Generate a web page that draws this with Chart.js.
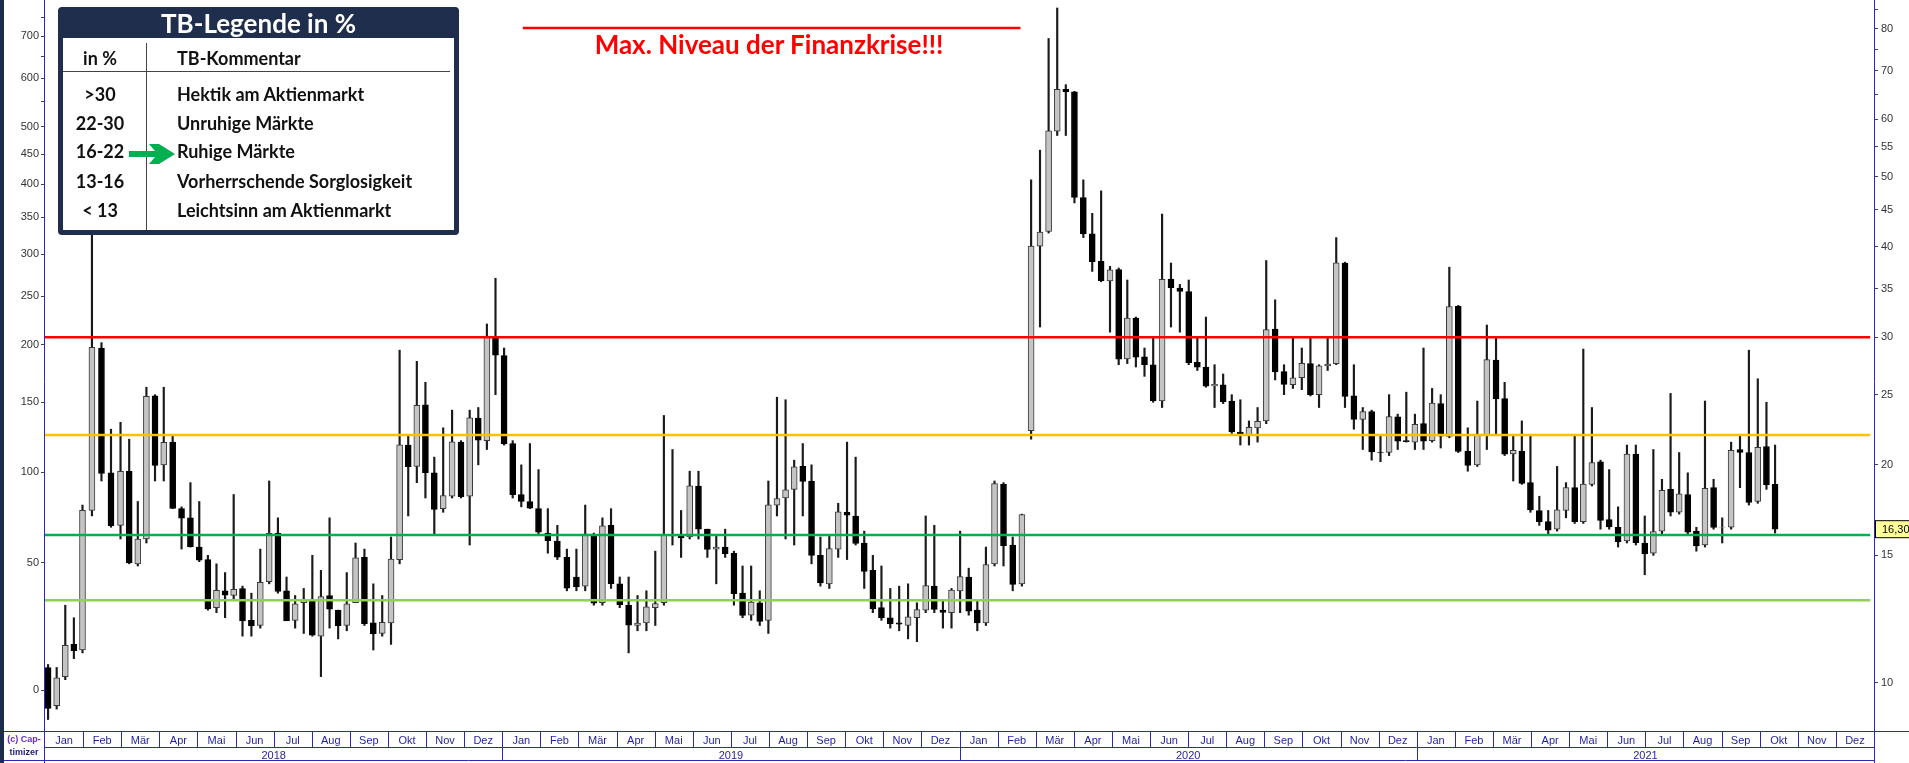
<!DOCTYPE html>
<html>
<head>
<meta charset="utf-8">
<title>VIX 2018-2021</title>
<script src="https://cdn.jsdelivr.net/npm/chart.js@4.4.1/dist/chart.umd.min.js"></script>
<style>
  html, body { margin: 0; padding: 0; background: #fff; overflow: hidden; }
  #wrap { position: relative; width: 1909px; height: 763px; }
  #edge { position: absolute; left: 0; top: 0; width: 4px; height: 763px; background: #1d2c4a; }
  #legend { position: absolute; left: 58px; top: 7px; width: 401px; height: 228px; background: #1f2e4c;
    border-radius: 4px; font-family: Lato, 'Open Sans', sans-serif; }
  #legend .title { position: absolute; left: 0; top: 1px; width: 100%; text-align: center; color: #fff;
    font-weight: bold; font-size: 26px; line-height: 30px; }
  #legend .inner { position: absolute; left: 5px; top: 31px; width: 391px; height: 192px; background: #fff; }
  #legend .vline { position: absolute; left: 83px; top: 5px; width: 1px; height: 187px; background: #444; }
  #legend .hline { position: absolute; left: 0; top: 33px; width: 387px; height: 1px; background: #444; }
  #legend .cell { position: absolute; font-size: 18px; line-height: 20px; font-weight: bold; color: #111; white-space: nowrap; }
  #legend .c1 { left: 0; width: 74px; text-align: center; }
  #legend .c2 { left: 114px; }
  #arrow { position: absolute; left: 66px; top: 104px; }
  #crisis { position: absolute; left: 519px; top: 29px; width: 500px; text-align: center; color: #f00;
    font-family: Lato, 'Open Sans', sans-serif; font-weight: bold; font-size: 26px; line-height: 30px; }
  #copy { position: absolute; left: 4px; top: 733px; width: 40px; font-family: 'Liberation Sans', Arial, sans-serif;
    font-size: 9px; line-height: 13px; font-weight: bold; text-align: center; }
</style>
</head>
<body>
<div id="wrap">
  <canvas id="vixChart" width="1909" height="763"></canvas>
  <div id="edge"></div>
  <div id="legend">
    <div class="title">TB-Legende in %</div>
    <div class="inner">
      <div class="vline"></div>
      <div class="hline"></div>
      <div class="cell c1" style="top:10px">in %</div>
      <div class="cell c2" style="top:10px">TB-Kommentar</div>
      <div class="cell c1" style="top:46px">&gt;30</div>
      <div class="cell c2" style="top:46px">Hektik am Aktienmarkt</div>
      <div class="cell c1" style="top:75px">22-30</div>
      <div class="cell c2" style="top:75px">Unruhige Märkte</div>
      <div class="cell c1" style="top:103px">16-22</div>
      <div class="cell c2" style="top:103px">Ruhige Märkte</div>
      <div class="cell c1" style="top:133px">13-16</div>
      <div class="cell c2" style="top:133px">Vorherrschende Sorglosigkeit</div>
      <div class="cell c1" style="top:162px">&lt; 13</div>
      <div class="cell c2" style="top:162px">Leichtsinn am Aktienmarkt</div>
      <svg id="arrow" width="48" height="24" viewBox="0 0 48 24">
        <polygon points="0,9 26,9 20,2 30,2 46,12 30,22 20,22 26,15 0,15" fill="#00b050"/>
      </svg>
    </div>
  </div>
  <div id="crisis">Max. Niveau der Finanzkrise!!!</div>
  <div id="copy"><span style="color:#6a2cc0">(c) Cap-</span><br><span style="color:#1c1c7a">timizer</span></div>
</div>
<script>
// weekly VIX candles, first week starts Mon 2018-01-01
const firstMonday = Date.UTC(2018, 0, 1);

const opens = [
  // 2018
  10.5, 9.3, 10.2, 11.3, 11.1, 17.3, 29.0, 19.5, 16.5, 19.6, 14.6, 15.8, 24.9, 20.0, 21.5, 17.4, 16.9, 15.4, 14.8, 12.7,
  13.4, 13.2, 13.5, 12.2, 12.0, 13.8, 16.1, 13.4, 12.2, 12.9, 13.0, 11.6, 13.2, 12.6, 12.0, 12.9, 14.9, 12.1, 11.7, 12.1,
  14.8, 21.3, 19.9, 24.2, 19.5, 17.4, 18.1, 21.5, 18.1, 23.2, 21.6, 30.1,
  // 2019
  28.3, 21.4, 18.2, 17.8, 17.4, 16.1, 15.7, 14.9, 14.0, 13.6, 16.0, 12.9, 16.5, 13.7, 12.8, 12.0, 12.1, 12.7, 12.9, 16.0,
  16.0, 15.9, 18.7, 16.3, 15.3, 15.4, 15.1, 13.3, 12.4, 12.9, 12.2, 17.6, 18.0, 18.5, 19.9, 19.0, 15.0, 13.7, 15.3, 17.2,
  17.0, 15.6, 14.3, 12.7, 12.3, 12.1, 12.0, 12.3, 12.6, 13.6, 12.6, 12.5,
  // 2020
  13.4, 14.0, 12.6, 12.1, 14.6, 18.8, 15.5, 13.7, 22.3, 40.1, 42.0, 57.8, 66.0, 65.5, 46.8, 41.7, 38.2, 35.9, 37.2, 28.0,
  31.9, 28.2, 27.5, 24.5, 36.1, 35.1, 34.7, 27.7, 27.3, 25.7, 25.8, 24.5, 22.2, 22.0, 22.5, 23.0, 30.8, 26.9, 25.8, 26.4,
  27.6, 25.0, 27.4, 27.6, 38.0, 24.9, 23.1, 23.7, 20.8, 20.8, 23.3, 21.6, 21.5,
  // 2021
  22.8, 21.6, 24.3, 21.9, 33.1, 20.9, 20.0, 22.0, 27.9, 24.7, 20.7, 20.9, 18.9, 17.3, 16.7, 16.3, 17.3, 18.6, 16.7, 18.8,
  20.2, 16.8, 16.4, 15.7, 20.7, 15.6, 15.1, 16.2, 18.5, 17.2, 18.2, 16.2, 15.5, 18.6, 16.4, 16.4, 21.0, 20.8, 17.8, 21.2,
  18.8
];
const highs = [
  10.6, 10.5, 12.8, 12.3, 17.6, 50.3, 29.5, 22.4, 22.9, 21.7, 17.8, 25.6, 25.0, 25.6, 22.0, 17.5, 18.9, 17.8, 15.0, 14.6,
  14.2, 18.2, 13.6, 13.3, 15.3, 19.0, 16.9, 14.0, 13.2, 13.5, 15.0, 14.3, 16.9, 12.6, 14.2, 15.6, 15.3, 13.7, 13.2, 15.9,
  28.8, 22.0, 27.8, 26.0, 20.5, 22.5, 23.8, 21.6, 23.8, 24.0, 31.3, 36.2,
  29.0, 21.6, 20.0, 21.4, 19.7, 17.4, 16.5, 15.3, 15.3, 17.6, 16.1, 16.9, 17.4, 14.0, 14.0, 13.2, 13.4, 15.2, 23.4, 21.0,
  17.3, 19.6, 19.6, 16.3, 16.0, 16.3, 15.2, 14.5, 14.5, 13.4, 19.0, 24.8, 24.6, 20.3, 21.4, 20.0, 15.9, 16.0, 17.7, 21.5,
  20.5, 16.2, 15.0, 14.5, 13.5, 13.6, 13.7, 12.9, 17.0, 16.5, 13.0, 13.5,
  16.2, 14.4, 13.0, 15.4, 19.0, 18.9, 15.9, 17.1, 49.5, 54.4, 77.6, 85.5, 67.0, 65.6, 49.5, 44.5, 47.8, 37.6, 37.4, 36.0,
  32.0, 29.0, 30.0, 44.4, 38.0, 35.5, 36.0, 30.0, 32.0, 27.5, 26.7, 25.0, 24.6, 23.0, 24.0, 38.3, 33.8, 27.5, 30.0, 29.0,
  30.0, 27.5, 30.0, 41.2, 38.1, 27.5, 24.0, 23.8, 22.0, 25.0, 23.5, 25.2, 23.5,
  29.0, 25.5, 25.0, 37.5, 33.2, 22.5, 24.5, 31.2, 30.0, 26.0, 22.0, 23.0, 21.9, 18.1, 17.3, 19.9, 18.9, 22.0, 28.9, 24.0,
  20.3, 19.7, 17.5, 21.3, 21.3, 17.0, 21.0, 19.1, 25.1, 20.8, 19.5, 16.4, 24.5, 19.1, 16.9, 21.5, 22.0, 28.8, 26.3, 24.4,
  21.3
];
const lows = [
  8.9, 9.2, 10.1, 10.8, 11.0, 17.0, 19.0, 16.4, 15.8, 14.6, 14.5, 15.6, 19.0, 19.0, 17.4, 15.3, 15.4, 14.7, 12.6, 12.5,
  12.3, 13.0, 11.6, 11.6, 11.9, 13.7, 13.3, 12.2, 11.9, 11.7, 11.6, 10.2, 11.9, 11.5, 11.8, 12.9, 12.0, 11.1, 11.6, 11.3,
  14.6, 17.0, 18.9, 18.0, 16.0, 17.2, 18.0, 18.0, 15.5, 20.0, 21.0, 25.0,
  21.3, 18.0, 17.5, 17.4, 16.0, 15.1, 14.8, 13.4, 13.4, 13.4, 12.8, 12.8, 13.5, 12.7, 11.0, 11.8, 11.8, 12.0, 12.8, 15.5,
  14.9, 15.8, 15.8, 14.9, 13.7, 14.9, 12.8, 12.3, 12.2, 12.0, 11.7, 17.0, 15.8, 15.5, 17.0, 14.6, 13.6, 13.5, 14.9, 14.8,
  15.5, 13.5, 12.5, 12.2, 11.9, 11.8, 11.5, 11.4, 12.5, 12.5, 11.9, 11.9,
  12.5, 12.4, 11.8, 12.0, 14.5, 14.5, 13.4, 13.6, 21.7, 31.0, 41.8, 57.0, 57.0, 46.0, 41.2, 37.0, 35.8, 30.5, 27.5, 27.6,
  27.3, 26.5, 24.4, 24.0, 31.0, 30.5, 27.5, 27.0, 25.6, 24.0, 24.3, 22.1, 21.3, 21.3, 21.5, 22.8, 26.2, 25.0, 25.5, 25.4,
  24.9, 24.0, 27.0, 27.5, 24.0, 22.4, 21.0, 20.3, 20.2, 20.6, 21.0, 21.5, 21.0,
  21.0, 21.5, 21.1, 21.8, 20.8, 19.6, 19.9, 21.0, 22.0, 20.6, 19.0, 18.8, 17.2, 16.5, 16.0, 16.2, 16.9, 16.6, 16.6, 18.7,
  16.3, 16.3, 15.4, 15.6, 15.5, 14.1, 15.0, 16.0, 17.0, 17.1, 16.0, 15.2, 15.4, 16.3, 15.6, 16.3, 18.6, 17.6, 17.7, 18.5,
  16.1
];
const closes = [
  9.22, 10.16, 11.27, 11.08, 17.31, 29.06, 19.46, 16.49, 19.59, 14.64, 15.80, 24.87, 19.97, 21.49, 17.41, 16.88, 15.41, 14.77, 12.65, 13.42,
  13.22, 13.46, 12.18, 11.98, 13.77, 16.09, 13.37, 12.18, 12.86, 13.03, 11.64, 13.16, 12.64, 11.99, 12.86, 14.88, 12.07, 11.68, 12.12, 14.82,
  21.31, 19.89, 24.16, 19.51, 17.36, 18.14, 21.52, 18.07, 23.23, 21.63, 30.11, 28.34,
  21.38, 18.19, 17.80, 17.42, 16.14, 15.72, 14.91, 13.51, 13.57, 16.05, 12.88, 16.48, 13.71, 12.82, 12.01, 12.09, 12.73, 12.87, 16.04, 15.96,
  15.85, 18.71, 16.30, 15.28, 15.40, 15.08, 13.28, 12.39, 12.93, 12.16, 17.61, 17.97, 18.47, 19.87, 18.98, 15.00, 13.74, 15.32, 17.22, 17.04,
  15.58, 14.25, 12.65, 12.30, 12.07, 12.05, 12.34, 12.62, 13.62, 12.63, 12.51, 13.43,
  14.02, 12.56, 12.10, 14.56, 18.84, 15.47, 13.68, 17.08, 40.11, 41.94, 57.83, 66.04, 65.54, 46.80, 41.67, 38.15, 35.93, 37.19, 27.98, 31.89,
  28.16, 27.51, 24.52, 36.09, 35.12, 34.73, 27.68, 27.29, 25.68, 25.84, 24.46, 22.21, 22.05, 22.54, 22.96, 30.75, 26.87, 25.83, 26.38, 27.63,
  25.00, 27.41, 27.55, 38.02, 24.86, 23.10, 23.70, 20.84, 20.79, 23.31, 21.57, 21.53, 22.75,
  21.56, 24.34, 21.91, 33.09, 20.87, 19.97, 22.05, 27.95, 24.66, 20.69, 20.95, 18.86, 17.33, 16.69, 16.25, 17.33, 18.61, 16.69, 18.81, 20.15,
  16.76, 16.42, 15.65, 20.70, 15.62, 15.07, 16.18, 18.45, 17.20, 18.24, 16.15, 15.45, 18.56, 16.39, 16.41, 20.95, 20.81, 17.75, 21.15, 18.77,
  16.30
];

const monthNames = ['Jan', 'Feb', 'Mär', 'Apr', 'Mai', 'Jun', 'Jul', 'Aug', 'Sep', 'Okt', 'Nov', 'Dez'];
const years = ['2018', '2019', '2020', '2021'];
const rightTicks = [10, 15, 20, 25, 30, 35, 40, 45, 50, 55, 60, 65, 70, 75, 80, 85];
const rightMinor = [65, 75, 85];
const leftTicks = [0, 50, 100, 150, 200, 250, 300, 350, 400, 450, 500, 550, 600, 650, 700, 750];
const leftMinor = [550, 650, 750];
const basis = 9.77; // 0 % on the left axis
const levels = [30, 22, 16, 13];
const levelColors = ['#ff0000', '#ffc000', '#00b050', '#92d050'];
const crisisLevel = 80.2;
const crisisSpan = [12.54, 25.6];

// x in month units (0 = Jan 2018), centred on the Wednesday of each week
const weekX = opens.map((o, i) => {
  const d = new Date(firstMonday + (i * 7 + 2) * 86400000);
  const y = d.getUTCFullYear(), m = d.getUTCMonth();
  const dim = new Date(Date.UTC(y, m + 1, 0)).getUTCDate();
  return (y - 2018) * 12 + m + (d.getUTCDate() - 0.5) / dim;
});

const blue = '#2a2ab8';
const tickFont = { family: "'Liberation Sans', Arial, sans-serif", size: 11 };

// no extra room for label overhang, the plot must fill the canvas
const noPad = (s) => { s.paddingTop = 0; s.paddingBottom = 0; s.paddingLeft = 0; s.paddingRight = 0; };

const framePlugin = {
  id: 'frame',
  afterDraw(chart) {
    const { ctx, chartArea: a, scales } = chart;
    const W = chart.width, H = chart.height;
    const xs = scales.x, ys = scales.y;
    const line = (x1, y1, x2, y2) => { ctx.beginPath(); ctx.moveTo(x1, y1); ctx.lineTo(x2, y2); ctx.stroke(); };
    ctx.save();
    ctx.strokeStyle = blue;
    ctx.lineWidth = 1;
    const yM = a.bottom + 0.5, yY = a.bottom + 16.5, yB = H - 2.5;
    line(0, yM, W, yM);
    line(a.left, yY, a.right, yY);
    line(0, yB, a.right, yB);
    line(Math.round(a.left) - 0.5, 0, Math.round(a.left) - 0.5, H);
    line(Math.round(a.right) + 0.5, 0, Math.round(a.right) + 0.5, H);
    for (let m = 1; m < 48; m++) {
      const px = Math.round(xs.getPixelForValue(m)) + 0.5;
      line(px, yM, px, yY);
    }
    for (let y = 1; y < 4; y++) {
      const px = Math.round(xs.getPixelForValue(y * 12)) + 0.5;
      line(px, yY, px, yB);
    }
    // last value badge
    const last = closes[closes.length - 1];
    const py = ys.getPixelForValue(last);
    ctx.fillStyle = '#ffff99';
    ctx.strokeStyle = '#000';
    ctx.fillRect(a.right + 1, py - 9, W - a.right, 18);
    ctx.strokeRect(a.right + 1.5, py - 8.5, W - a.right, 17);
    ctx.fillStyle = '#000';
    ctx.font = "11px 'Liberation Sans', Arial, sans-serif";
    ctx.textBaseline = 'middle';
    ctx.fillText(last.toFixed(2).replace('.', ','), a.right + 8, py + 1);
    ctx.restore();
  }
};

const levelSets = levels.map((lv, i) => ({
  type: 'line',
  data: [{ x: 0, y: lv }, { x: 47.9, y: lv }],
  borderColor: levelColors[i],
  borderWidth: 2.5,
  pointRadius: 0,
  order: 0
}));

const ctx = document.getElementById('vixChart').getContext('2d');
new Chart(ctx, {
  type: 'bar',
  data: {
    datasets: [
      ...levelSets,
      {
        type: 'line',
        data: [{ x: crisisSpan[0], y: crisisLevel }, { x: crisisSpan[1], y: crisisLevel }],
        borderColor: '#ff0000',
        borderWidth: 2.5,
        pointRadius: 0,
        order: 0
      },
      {
        // wicks
        data: weekX.map((x, i) => ({ x, y: [lows[i], highs[i]] })),
        backgroundColor: '#1a1a1a',
        barThickness: 1.5,
        grouped: false,
        order: 3
      },
      {
        // bodies
        data: weekX.map((x, i) => ({ x, y: [Math.min(opens[i], closes[i]), Math.max(opens[i], closes[i])] })),
        backgroundColor: closes.map((c, i) => (c >= opens[i] ? '#c4c4c4' : '#000000')),
        borderColor: closes.map((c, i) => (c >= opens[i] ? '#3a3a3a' : '#000000')),
        borderWidth: 1,
        borderSkipped: false,
        barThickness: 6,
        grouped: false,
        order: 2
      }
    ]
  },
  options: {
    responsive: false,
    animation: false,
    events: [],
    layout: { padding: 0 },
    plugins: { legend: { display: false }, tooltip: { enabled: false } },
    scales: {
      x: {
        type: 'linear', position: 'bottom', min: 0, max: 48, offset: false,
        grid: { display: false, drawTicks: false }, border: { display: false },
        afterBuildTicks: (s) => { s.ticks = monthNames.concat(monthNames, monthNames, monthNames).map((n, i) => ({ value: i + 0.5 })); },
        afterFit: (s) => { s.height = 16; noPad(s); },
        ticks: {
          autoSkip: false, maxRotation: 0, padding: 3, color: '#1e1e9e', font: tickFont,
          callback: (v) => monthNames[Math.floor(v) % 12]
        }
      },
      x2: {
        type: 'linear', position: 'bottom', min: 0, max: 48, offset: false,
        grid: { display: false, drawTicks: false }, border: { display: false },
        afterBuildTicks: (s) => { s.ticks = years.map((y, i) => ({ value: i * 12 + 6 })); },
        afterFit: (s) => { s.height = 16; noPad(s); },
        ticks: {
          autoSkip: false, maxRotation: 0, padding: 2, color: '#1e1e9e', font: tickFont,
          callback: (v) => years[Math.floor(v / 12)]
        }
      },
      y: {
        type: 'logarithmic', position: 'right', min: 8.58, max: 87.7,
        grid: { drawOnChartArea: false, drawTicks: true, tickLength: 4, color: '#444' },
        border: { display: false },
        afterBuildTicks: (s) => { s.ticks = rightTicks.map((v) => ({ value: v })); },
        afterFit: (s) => { s.width = 35; noPad(s); },
        ticks: {
          autoSkip: false, padding: 3, color: '#333', font: tickFont,
          callback: (v) => (rightMinor.includes(v) ? '' : String(v))
        }
      },
      yL: {
        type: 'logarithmic', position: 'left', min: 8.58, max: 87.7,
        grid: { drawOnChartArea: false, drawTicks: true, tickLength: 4, color: '#444' },
        border: { display: false },
        afterBuildTicks: (s) => { s.ticks = leftTicks.map((p) => ({ value: basis * (1 + p / 100) })); },
        afterFit: (s) => { s.width = 45; noPad(s); },
        ticks: {
          autoSkip: false, padding: 2, color: '#333', font: tickFont,
          callback: (v) => {
            const p = Math.round((v / basis - 1) * 100);
            return leftMinor.includes(p) ? '' : String(p);
          }
        }
      }
    }
  },
  plugins: [framePlugin]
});
</script>
</body>
</html>
